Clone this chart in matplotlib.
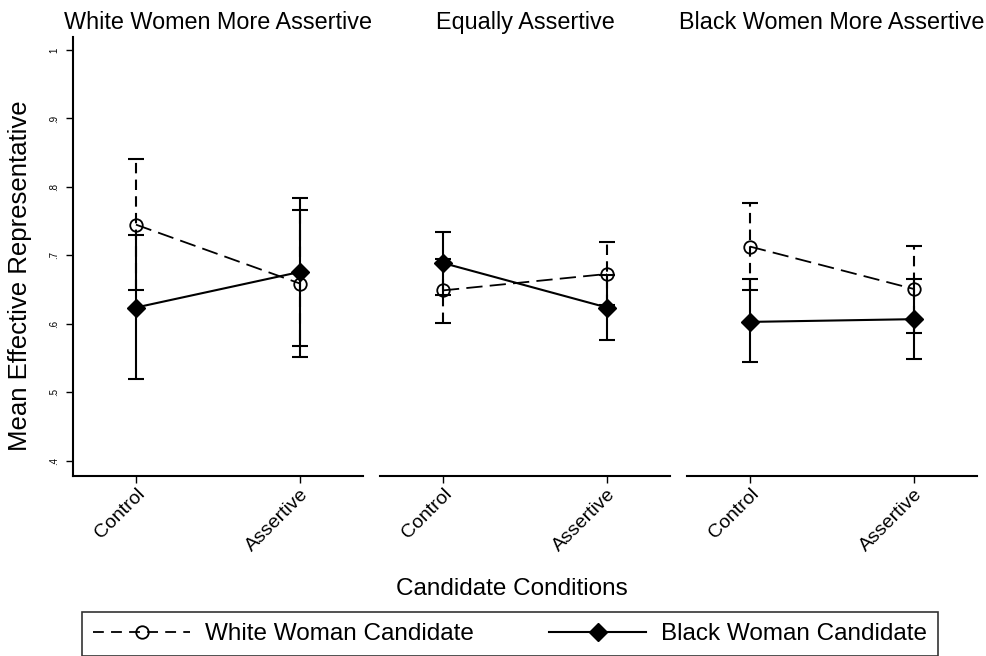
import matplotlib
matplotlib.use("Agg")
import matplotlib.pyplot as plt
from matplotlib.lines import Line2D

plt.rcParams['font.family'] = ['Liberation Sans', 'DejaVu Sans']

panel_titles = ["White Women More Assertive", "Equally Assertive", "Black Women More Assertive"]
conditions = ["Control", "Assertive"]

white_mean = [[0.745, 0.659], [0.649, 0.673], [0.713, 0.651]]
white_lo = [[0.649, 0.552], [0.602, 0.627], [0.649, 0.587]]
white_hi = [[0.841, 0.767], [0.695, 0.719], [0.777, 0.714]]

black_mean = [[0.624, 0.676], [0.689, 0.624], [0.603, 0.607]]
black_lo = [[0.520, 0.568], [0.643, 0.577], [0.544, 0.549]]
black_hi = [[0.730, 0.784], [0.734, 0.671], [0.665, 0.665]]

y_ticks = [0.4, 0.5, 0.6, 0.7, 0.8, 0.9, 1.0]
y_tick_labels = [".4", ".5", ".6", ".7", ".8", ".9", "1"]

W, H = 986, 656
fig = plt.figure(figsize=(W / 100, H / 100), dpi=100)

lefts = [73, 380, 687]
pw = 290
top_px, bot_px = 37, 476
x = [0, 1]

for i, left in enumerate(lefts):
    ax = fig.add_axes([left / W, 1 - bot_px / H, pw / W, (bot_px - top_px) / H])
    ax.set_xlim(-0.384, 1.384)
    ax.set_ylim(0.378, 1.019)

    # white woman candidate: dashed line, open circles, dashed CI bars
    wm = white_mean[i]
    werr = [[m - lo for m, lo in zip(wm, white_lo[i])], [hi - m for m, hi in zip(wm, white_hi[i])]]
    eb = ax.errorbar(x, wm, yerr=werr, fmt='none', ecolor='black', elinewidth=1.5,
                     capsize=5.5, capthick=1.5, zorder=2)
    for coll in eb[2]:
        coll.set_linestyle((0, (5, 3)))
    ax.plot(x, wm, color='black', linestyle=(0, (9, 4)), linewidth=1.3, marker='o',
            markersize=9, markerfacecolor='none', markeredgecolor='black',
            markeredgewidth=1.3, zorder=3)

    # black woman candidate: solid line, filled diamonds
    bm = black_mean[i]
    berr = [[m - lo for m, lo in zip(bm, black_lo[i])], [hi - m for m, hi in zip(bm, black_hi[i])]]
    ax.errorbar(x, bm, yerr=berr, fmt='none', ecolor='black', elinewidth=1.5,
                capsize=5.5, capthick=1.5, zorder=2)
    ax.plot(x, bm, color='black', linestyle='-', linewidth=1.5, marker='D',
            markersize=9.5, markerfacecolor='black', markeredgecolor='black', zorder=4)

    for s in ['top', 'right']:
        ax.spines[s].set_visible(False)
    ax.spines['bottom'].set_linewidth(1.5)
    ax.set_xticks(x)
    ax.set_xticklabels(conditions, rotation=45, ha='right', rotation_mode='anchor', fontsize=14)
    ax.tick_params(axis='x', length=5, width=1, pad=2)

    if i == 0:
        ax.spines['left'].set_linewidth(1.5)
        ax.set_yticks(y_ticks)
        ax.set_yticklabels(y_tick_labels, rotation=90, va='center', fontsize=7)
        ax.tick_params(axis='y', length=5, width=1, pad=5)
    else:
        ax.spines['left'].set_visible(False)
        ax.set_yticks([])

    ax.set_title(panel_titles[i], fontsize=16.8, pad=6)

fig.text(20 / W, 1 - 276 / H, "Mean Effective Representative", rotation=90,
         ha='center', va='center', fontsize=18.5)
fig.text(512 / W, 1 - 589 / H, "Candidate Conditions", ha='center', va='center', fontsize=17.5)

handles = [
    Line2D([], [], color='black', linestyle=(0, (6, 4)), linewidth=1.3, marker='o',
           markersize=9, markerfacecolor='none', markeredgewidth=1.3),
    Line2D([], [], color='black', linestyle='-', linewidth=1.5, marker='D',
           markersize=9.5, markerfacecolor='black'),
]
leg = fig.legend(handles, ["White Woman Candidate", "Black Woman Candidate"],
                 loc='center', bbox_to_anchor=(510 / W, 1 - 634 / H), ncol=2,
                 fontsize=17.5, frameon=True, fancybox=False, edgecolor='black',
                 handlelength=4.0, handletextpad=0.6, columnspacing=3.1,
                 borderpad=0.45, numpoints=1)
leg.get_frame().set_linewidth(1.2)

fig.savefig("out.png", dpi=100)
